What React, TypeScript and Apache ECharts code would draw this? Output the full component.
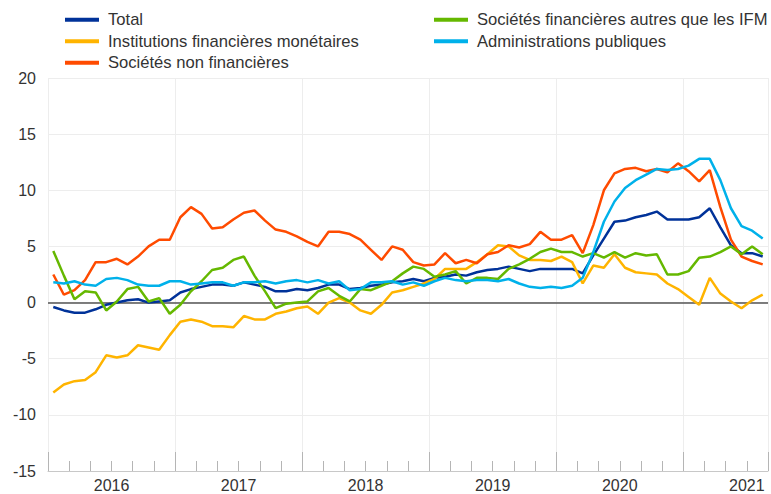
import React, { useEffect, useRef } from 'react';
import * as echarts from 'echarts';

const FONT = '"Liberation Sans", Arial, sans-serif';

// Tick labels (years) and monthly categories
const years = ['2016', '2017', '2018', '2019', '2020', '2021'];
const monthsInLastYear = 8;
const months: string[] = [];
years.forEach((y, yi) => {
  const n = yi === years.length - 1 ? monthsInLastYear : 12;
  for (let m = 1; m <= n; m++) months.push(`${y}-${String(m).padStart(2, '0')}`);
});

const seriesNames = [
  'Total',
  'Institutions financières monétaires',
  'Sociétés non financières',
  'Sociétés financières autres que les IFM',
  'Administrations publiques',
];

const total = [
  -0.4, -0.7, -0.9, -0.9, -0.6, -0.2, 0.0, 0.2, 0.3, 0.0, 0.1, 0.2,
  0.9, 1.2, 1.4, 1.6, 1.6, 1.5, 1.8, 1.6, 1.4, 1.0, 1.0, 1.2,
  1.1, 1.3, 1.6, 1.6, 1.2, 1.3, 1.5, 1.6, 1.8, 1.9, 2.1, 1.9,
  2.2, 2.3, 2.5, 2.4, 2.7, 2.9, 3.0, 3.2, 3.0, 2.8, 3.0, 3.0,
  3.0, 3.0, 2.6, 4.2, 5.7, 7.2, 7.3, 7.6, 7.8, 8.1, 7.4, 7.4,
  7.4, 7.6, 8.4, 6.7, 5.1, 4.4, 4.4, 4.1,
];

const ifm = [
  -8.0, -7.3, -7.0, -6.9, -6.2, -4.7, -4.9, -4.7, -3.8, -4.0, -4.2, -2.9,
  -1.7, -1.5, -1.7, -2.1, -2.1, -2.2, -1.2, -1.5, -1.5, -1.0, -0.8, -0.5,
  -0.35, -1.0, 0.0, 0.4, 0.0, -0.7, -1.0, -0.2, 0.9, 1.1, 1.4, 1.7,
  2.1, 3.0, 3.0, 3.0, 3.6, 4.3, 5.1, 5.0, 4.2, 3.8, 3.8, 3.7,
  4.1, 3.6, 1.7, 3.3, 3.1, 4.3, 3.1, 2.7, 2.6, 2.5, 1.7, 1.2,
  0.5, -0.2, 2.2, 0.8, 0.1, -0.5, 0.2, 0.7,
];

const snf = [
  2.5, 0.7, 1.1, 2.0, 3.6, 3.6, 3.9, 3.4, 4.1, 5.0, 5.6, 5.6,
  7.6, 8.5, 7.9, 6.6, 6.7, 7.4, 8.0, 8.2, 7.3, 6.5, 6.3, 5.9,
  5.4, 5.0, 6.3, 6.3, 6.1, 5.6, 4.7, 3.8, 5.0, 4.7, 3.6, 3.3,
  3.4, 4.4, 3.5, 3.8, 3.5, 4.3, 4.5, 5.1, 4.9, 5.2, 6.3, 5.6,
  5.6, 6.0, 4.4, 6.9, 10.0, 11.5, 11.9, 12.0, 11.7, 11.9, 11.6, 12.4,
  11.7, 10.8, 11.8, 8.5, 5.6, 4.1, 3.7, 3.4,
];

const sfAutres = [
  4.6, 2.4, 0.3, 1.0, 0.9, -0.7, 0.1, 1.2, 1.4, 0.1, 0.4, -1.0,
  -0.2, 1.0, 1.9, 2.9, 3.1, 3.8, 4.1, 2.4, 1.0, -0.5, -0.1, 0.0,
  0.1, 1.0, 1.3, 0.6, 0.1, 1.2, 1.1, 1.5, 1.9, 2.6, 3.2, 3.0,
  2.3, 2.5, 2.8, 1.7, 2.2, 2.2, 2.1, 3.0, 3.4, 3.9, 4.5, 4.8,
  4.5, 4.5, 4.1, 4.4, 4.0, 4.5, 4.0, 4.4, 4.2, 4.3, 2.5, 2.5,
  2.8, 4.0, 4.1, 4.5, 5.0, 4.3, 5.0, 4.3,
];

const apu = [
  1.8, 1.7, 1.9, 1.6, 1.5, 2.1, 2.2, 2.0, 1.6, 1.5, 1.5, 1.9,
  1.9, 1.6, 1.7, 1.8, 1.8, 1.5, 1.8, 1.8, 1.9, 1.7, 1.9, 2.0,
  1.8, 2.0, 1.7, 1.9, 1.1, 1.2, 1.8, 1.8, 1.9, 1.6, 1.8, 1.5,
  1.9, 2.2, 2.0, 1.9, 2.0, 2.0, 1.9, 2.1, 1.7, 1.4, 1.3, 1.4,
  1.3, 1.5, 2.2, 4.5, 7.2, 9.0, 10.2, 10.9, 11.4, 11.9, 11.8, 11.9,
  12.2, 12.8, 12.8, 10.9, 8.4, 6.8, 6.4, 5.7,
];

const seriesData = [total, ifm, snf, sfAutres, apu];
const colors = ['#003299', '#ffb400', '#ff4b00', '#65b800', '#00b1ea'];

const yTicks = { min: -15, max: 20, step: 5 };

export default function App() {
  const ref = useRef<HTMLDivElement>(null);

  useEffect(() => {
    if (!ref.current) return;
    const chart = echarts.init(ref.current, undefined, { renderer: 'svg' });

    const legendText = {
      fontSize: 16.6,
      color: '#333',
      fontFamily: FONT,
      lineHeight: 21.5,
      padding: [0, 0, 0, 4],
    };

    const legendBase = {
      orient: 'vertical',
      top: 4,
      icon: 'rect',
      itemWidth: 34,
      itemHeight: 4,
      itemGap: 0,
      textStyle: legendText,
    };

    const option: any = {
      animation: false,
      backgroundColor: '#ffffff',
      color: colors,
      textStyle: { fontFamily: FONT },
      grid: { left: 48, right: 0, top: 78, bottom: 23, containLabel: false },
      legend: [
        { ...legendBase, data: seriesNames.slice(0, 3), left: 60 },
        { ...legendBase, data: seriesNames.slice(3), left: 429 },
      ],
      xAxis: [
        {
          type: 'category',
          data: months,
          boundaryGap: true,
          position: 'bottom',
          axisLine: { show: true, onZero: false, lineStyle: { color: '#c8c8c8', width: 1 } },
          axisTick: {
            show: true,
            inside: true,
            length: 10,
            interval: (i: number) => i % 2 === 0,
            lineStyle: { color: '#b5b5b5', width: 1 },
          },
          axisLabel: { show: false },
          splitLine: { show: false },
        },
        {
          type: 'category',
          data: months,
          boundaryGap: true,
          position: 'bottom',
          axisLine: { show: false, onZero: false },
          axisTick: {
            show: true,
            inside: true,
            length: 19,
            interval: (i: number) => i % 12 === 0,
            lineStyle: { color: '#b5b5b5', width: 1 },
          },
          axisLabel: { show: false },
          splitLine: {
            show: true,
            interval: (i: number) => i % 12 === 0,
            lineStyle: { color: '#ededed', width: 1 },
          },
        },
        {
          type: 'value',
          min: 0,
          max: months.length,
          interval: 6,
          position: 'bottom',
          axisLine: { show: false, onZero: false },
          axisTick: { show: false },
          splitLine: { show: false },
          axisLabel: {
            show: true,
            margin: 6,
            fontSize: 16,
            color: '#333',
            fontFamily: FONT,
            formatter: (v: number) => (v % 12 === 6 ? years[(v - 6) / 12] : ''),
          },
        },
      ],
      yAxis: {
        type: 'value',
        min: yTicks.min,
        max: yTicks.max,
        interval: yTicks.step,
        axisLine: { show: false },
        axisTick: { show: false },
        splitLine: { show: true, lineStyle: { color: '#ededed', width: 1 } },
        axisLabel: { fontSize: 16, color: '#333', margin: 12, fontFamily: FONT },
      },
      series: seriesNames.map((name, k) => ({
        name,
        type: 'line',
        xAxisIndex: 0,
        yAxisIndex: 0,
        data: seriesData[k],
        symbol: 'none',
        showSymbol: false,
        lineStyle: { width: 2.5, color: colors[k] },
        itemStyle: { color: colors[k] },
        z: 3,
        ...(k === 0
          ? {
              markLine: {
                silent: true,
                symbol: ['none', 'none'],
                label: { show: false },
                lineStyle: { color: '#555', width: 1.5, type: 'solid' },
                data: [{ yAxis: 0 }],
                z: 1,
              },
            }
          : {}),
      })),
    };

    chart.setOption(option);
    return () => chart.dispose();
  }, []);

  return (
    <div
      ref={ref}
      style={{ position: 'fixed', left: 0, top: 0, width: 771, height: 494, background: '#fff' }}
    />
  );
}
